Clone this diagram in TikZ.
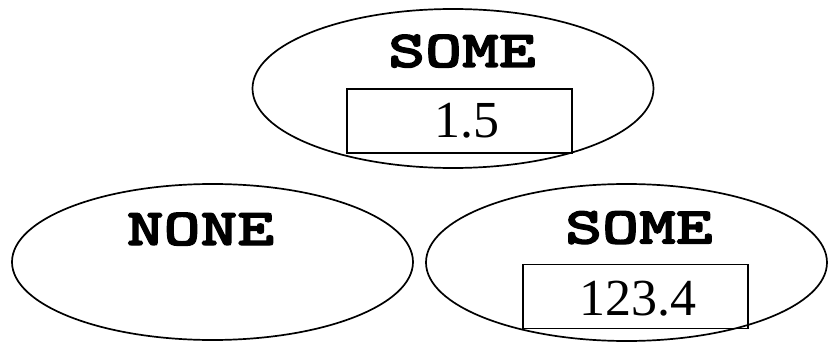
\documentclass[tikz,border=0pt]{standalone}
\usepackage{fontspec}
\setmainfont{Liberation Serif}
\newfontfamily\courb{lmmonolt10-bold.otf}[FakeBold=2.5, FakeStretch=1.35]
\usetikzlibrary{shapes.geometric}
\tikzset{
  oval/.style={ellipse, draw, line width=1.7pt, inner sep=0pt},
  valbox/.style={rectangle, draw, line width=1.7pt, inner sep=0pt, minimum width=225pt, minimum height=64pt},
  tag/.style={inner sep=0pt, anchor=base, font=\courb\fontsize{52pt}{52pt}\selectfont},
  num/.style={inner sep=0pt, anchor=base, font=\fontsize{52pt}{52pt}\selectfont}
}
\begin{document}
\begin{tikzpicture}[x=1pt,y=-1pt]
\useasboundingbox (0,0) rectangle (828,342);
% top
\node[oval, minimum width=401pt, minimum height=159pt] (e1) at (453,88.5) {};
\node[tag] (t1) at (462,67) {SOME};
\node[valbox] (b1) at (459.5,121) {};
\node[num] (n1) at (467,138) {1.5};
% bottom left
\node[oval, minimum width=401pt, minimum height=156pt] (e2) at (212.5,262) {};
\node[tag] (t2) at (200.5,245) {NONE};
% bottom right
\node[oval, minimum width=401pt, minimum height=157pt] (e3) at (626.5,262.5) {};
\node[tag] (t3) at (639,243.5) {SOME};
\node[valbox] (b2) at (635.5,296.5) {};
\node[num] (n2) at (637.5,315) {123.4};
\end{tikzpicture}
\end{document}
